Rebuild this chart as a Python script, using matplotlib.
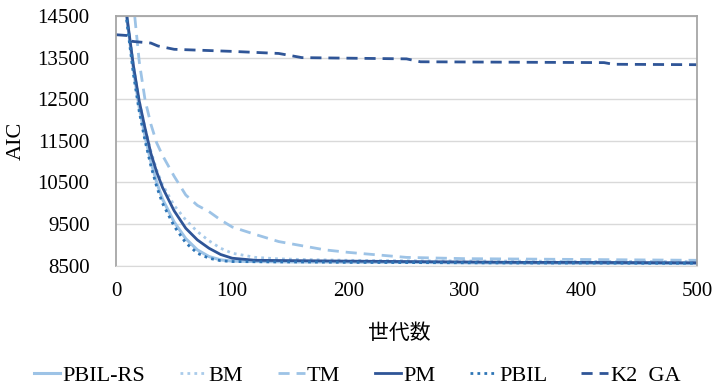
import numpy as np
import matplotlib.pyplot as plt

plt.rcParams['font.family'] = ['Liberation Serif', 'Noto Sans CJK JP']

gens = [0, 5, 10, 15, 20, 25, 30, 35, 40, 50, 60, 70, 80, 90, 100, 120, 140,
        160, 180, 200, 250, 300, 350, 400, 450, 500]

pbil_rs = [16900, 15500, 14300, 13200, 12300, 11600, 11000, 10500, 10100, 9550,
           9150, 8880, 8720, 8640, 8610, 8600, 8595, 8590, 8590, 8585, 8580,
           8570, 8565, 8560, 8555, 8550]
bm = [17000, 15600, 14400, 13300, 12450, 11800, 11250, 10800, 10450, 9950,
      9600, 9320, 9100, 8920, 8800, 8700, 8665, 8650, 8640, 8630, 8620,
      8615, 8610, 8605, 8600, 8600]
tm = [18500, 17200, 15900, 14800, 13400, 12480, 11900, 11450, 11150, 10650,
      10200, 9950, 9800, 9600, 9430, 9250, 9080, 8980, 8880, 8820, 8700,
      8670, 8660, 8650, 8640, 8630]
pm = [16800, 15500, 14350, 13300, 12450, 11800, 11200, 10750, 10380, 9820,
      9400, 9120, 8920, 8770, 8680, 8630, 8625, 8620, 8615, 8610, 8600,
      8590, 8580, 8580, 8575, 8570]
pbil = [16800, 15400, 14200, 13100, 12200, 11500, 10900, 10400, 10000, 9450,
        9050, 8800, 8680, 8620, 8600, 8595, 8590, 8590, 8585, 8580, 8575,
        8570, 8565, 8565, 8560, 8560]

k2_gens = [0, 10, 14, 30, 36, 50, 100, 140, 160, 250, 262, 420, 428, 500]
k2_ga = [14050, 14030, 13890, 13850, 13780, 13700, 13650, 13600, 13500, 13470,
         13400, 13380, 13340, 13330]

fig = plt.figure(figsize=(7.22, 3.81), dpi=100)
ax = fig.add_axes([0.1607, 0.3026, 0.8047, 0.6554])

ax.plot(gens, pbil_rs, color='#9DC3E6', lw=2.2, ls='-', label='PBIL-RS')
ax.plot(gens, bm, color='#A9CBEA', lw=2, ls=(0, (1, 1.5)), label='BM')
ax.plot(gens, tm, color='#9DC3E6', lw=2, ls=(0, (4, 2.5)), label='TM')
ax.plot(gens, pm, color='#2F5597', lw=2, ls='-', label='PM')
ax.plot(gens, pbil, color='#2E75B6', lw=2, ls=(0, (1, 1.5)), label='PBIL')
ax.plot(k2_gens, k2_ga, color='#2F5597', lw=2, ls=(0, (4, 2.5)), label='K2_GA')

ax.set_xlim(0, 500)
ax.set_ylim(8500, 14500)
ax.set_xticks([0, 100, 200, 300, 400, 500])
ax.set_yticks(np.arange(8500, 14501, 1000))
ax.tick_params(length=0, labelsize=15)
ax.tick_params(axis='y', pad=19)
ax.tick_params(axis='x', pad=12)
ax.grid(axis='y', color='#D9D9D9', lw=1)
ax.set_axisbelow(True)
for s in ['left', 'top', 'right']:
    ax.spines[s].set_color('#A6A6A6')
    ax.spines[s].set_linewidth(1.3)
ax.spines['bottom'].set_color('#D9D9D9')

ax.set_ylabel('AIC', fontsize=16)
ax.yaxis.set_label_coords(-0.155, 0.5)
ax.set_xlabel('世代数', fontsize=15, family=['Noto Sans CJK JP'])
ax.xaxis.set_label_coords(0.487, -0.225)

fig.legend(loc='center', bbox_to_anchor=(0.495, 0.015), ncol=6, frameon=False,
           fontsize=16, handlelength=1.2, handletextpad=0.1, columnspacing=1.55)

fig.savefig('out.png', dpi=100)
